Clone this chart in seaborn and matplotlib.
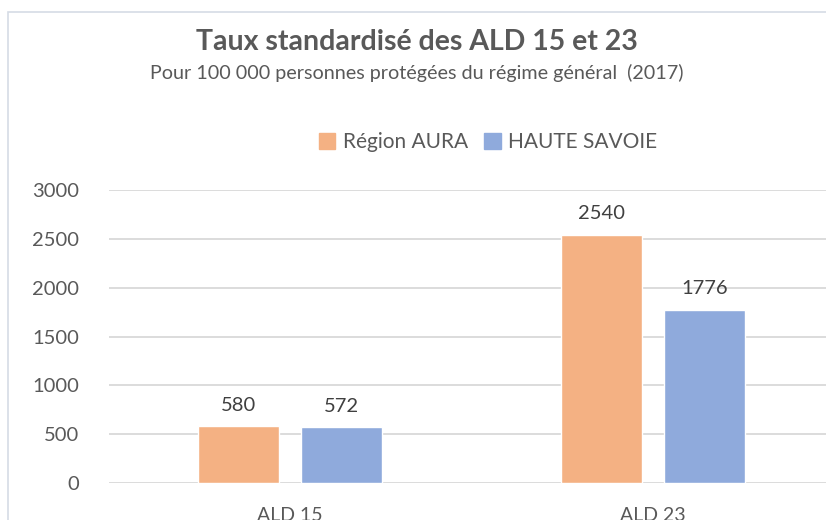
import pandas as pd
import matplotlib.pyplot as plt
import seaborn as sns
from matplotlib.patches import Rectangle

plt.switch_backend('Agg')

# data
categories = ['ALD 15', 'ALD 23']
series = ['Région AURA', 'HAUTE SAVOIE']
aura_values = [580, 2540]
haute_savoie_values = [572, 1776]
colors = ['#F4B183', '#8FAADC']
yticks = [0, 500, 1000, 1500, 2000, 2500, 3000]

df = pd.DataFrame({
    'categorie': categories * 2,
    'serie': [series[0]] * 2 + [series[1]] * 2,
    'valeur': aura_values + haute_savoie_values,
})

sns.set_theme(style='white')
plt.rcParams['font.family'] = ['Lato', 'DejaVu Sans']
txt = '#595959'

fig = plt.figure(figsize=(8.26, 5.2), dpi=100)
ax = fig.add_axes([108.5 / 826, 37 / 520, 726 / 826, 293 / 520])

sns.barplot(data=df, x='categorie', y='valeur', hue='serie', hue_order=series,
            palette=colors, width=0.57, gap=0.22, saturation=1, ax=ax,
            legend=False, errorbar=None)

ax.set_ylim(0, 3000)
ax.set_xlim(-0.5, 1.5)
ax.set_yticks(yticks)
ax.set_yticklabels([str(t) for t in yticks], fontsize=14.5, color=txt)
ax.tick_params(axis='y', length=0, pad=21)
# category labels sit partly below the figure edge, as in the reference
ax.tick_params(axis='x', length=0, pad=17, labelsize=14, labelcolor=txt)
ax.set_xlabel('')
ax.set_ylabel('')
ax.grid(axis='y', color='#D9D9D9', linewidth=1.3)
ax.set_axisbelow(True)
for s in ax.spines.values():
    s.set_visible(False)

# value labels
for cont in ax.containers:
    ax.bar_label(cont, fmt='%d', padding=9, fontsize=14.5, color='#404040')

# title, subtitle, legend
fig.text(417 / 826, 1 - 42 / 520, 'Taux standardisé des ALD 15 et 23', ha='center', va='center',
         fontsize=20.5, fontweight='bold', color=txt)
fig.text(417 / 826, 1 - 73 / 520, 'Pour 100 000 personnes protégées du régime général  (2017)',
         ha='center', va='center', fontsize=14.2, color=txt)

handles = [Rectangle((0, 0), 1, 1, color=c) for c in colors]
fig.legend(handles, series, loc='center', bbox_to_anchor=(488 / 826, 1 - 142 / 520), ncol=2,
           frameon=False, fontsize=15, labelcolor=txt, handlelength=0.8, handleheight=0.8,
           handletextpad=0.35, columnspacing=0.8)

# outer chart frame
fig.patches.append(Rectangle((8 / 826, -0.1), 1.0, 1 - 12 / 520 + 0.1, transform=fig.transFigure,
                             fill=False, edgecolor='#D6DCE5', linewidth=1.2))

fig.savefig('out.png', dpi=100)
plt.close()
